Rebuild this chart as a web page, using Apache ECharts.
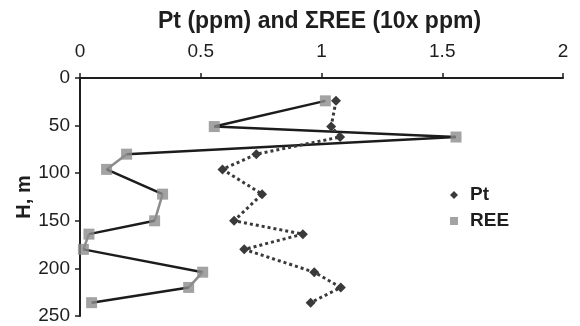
<!DOCTYPE html>
<html>
<head>
<meta charset="utf-8">
<script src="https://cdn.jsdelivr.net/npm/echarts@6/dist/echarts.min.js"></script>
<style>
  html, body { margin: 0; padding: 0; background: #fff; }
  #chart { width: 580px; height: 326px; }
</style>
</head>
<body>
<div id="chart"></div>
<script>
// Sample depths (m) down the section
const depths = [24, 51, 62, 80, 96, 122, 150, 164, 180, 204, 220, 236];
// Pt, ppm
const ptValues = [1.06, 1.04, 1.077, 0.73, 0.59, 0.754, 0.638, 0.923, 0.68, 0.97, 1.08, 0.955];
// Sum of REE, in units of 10 ppm
const reeValues = [1.016, 0.556, 1.557, 0.193, 0.11, 0.342, 0.309, 0.037, 0.014, 0.508, 0.45, 0.048];
// Axis ticks
const xTicks = [0, 0.5, 1, 1.5, 2];
const depthTicks = [0, 50, 100, 150, 200, 250];
// Shade of each REE connecting segment (between sample i and i+1)
const reeSegmentShade = ['dark', 'dark', 'dark', 'light', 'dark', 'light', 'dark', 'light', 'dark', 'light', 'dark'];

const FONT = '"Liberation Sans", Arial, sans-serif';
const INK = '#1e1e1e';
const SHADES = { dark: '#1c1c1c', light: '#8c8c8c' };

const pairs = (xs) => xs.map((v, i) => [v, depths[i]]);

const reeSegments = reeSegmentShade.map((shade, i) => ({
  type: 'line',
  name: 'REE-seg-' + i,
  data: [[reeValues[i], depths[i]], [reeValues[i + 1], depths[i + 1]]],
  showSymbol: false,
  symbol: 'none',
  silent: true,
  z: 2,
  lineStyle: { color: SHADES[shade], width: 2.5 },
  animation: false
}));

const chart = echarts.init(document.getElementById('chart'), null, { renderer: 'canvas' });
chart.setOption({
  animation: false,
  backgroundColor: '#ffffff',
  title: {
    text: 'Pt (ppm) and \u03A3REE (10x ppm)',
    left: 153,
    top: 5,
    textStyle: { fontFamily: FONT, fontSize: 23, fontWeight: 'bold', color: INK }
  },
  grid: { left: 80, right: 17, top: 78, bottom: 10, containLabel: false },
  legend: {
    orient: 'vertical',
    left: 445,
    top: 180,
    itemWidth: 8,
    itemHeight: 8,
    itemGap: 6,
    data: [
      { name: 'Pt', icon: 'diamond', itemStyle: { color: '#3a3a3a' } },
      { name: 'REE', icon: 'rect', itemStyle: { color: '#8c8c8c' } }
    ],
    textStyle: { fontFamily: FONT, fontSize: 19, fontWeight: 'bold', color: INK, lineHeight: 20, padding: [0, 0, 0, 7] }
  },
  xAxis: {
    type: 'value',
    position: 'top',
    min: xTicks[0],
    max: xTicks[xTicks.length - 1],
    interval: xTicks[1] - xTicks[0],
    splitLine: { show: false },
    axisLine: { show: true, lineStyle: { color: INK, width: 2 } },
    axisTick: { show: true, inside: false, length: 5, lineStyle: { color: INK, width: 1.5 } },
    axisLabel: { fontFamily: FONT, fontSize: 19, color: INK, margin: 17 }
  },
  yAxis: {
    type: 'value',
    inverse: true,
    min: depthTicks[0],
    max: depthTicks[depthTicks.length - 1],
    interval: depthTicks[1] - depthTicks[0],
    name: 'H, m',
    nameLocation: 'middle',
    nameRotate: 90,
    nameGap: 46,
    nameMoveOverlap: false,
    nameTextStyle: { fontFamily: FONT, fontSize: 20, fontWeight: 'bold', color: INK },
    splitLine: { show: false },
    axisLine: { show: true, lineStyle: { color: INK, width: 2 } },
    axisTick: { show: true, inside: false, length: 5, lineStyle: { color: INK, width: 1.5 } },
    axisLabel: { fontFamily: FONT, fontSize: 19, color: INK, margin: 10 }
  },
  series: [
    ...reeSegments,
    {
      type: 'scatter',
      name: 'REE',
      data: pairs(reeValues),
      symbol: 'rect',
      symbolSize: 11,
      z: 3,
      itemStyle: { color: '#8c8c8c' }
    },
    {
      type: 'line',
      name: 'Pt',
      data: pairs(ptValues),
      symbol: 'diamond',
      symbolSize: 10,
      showAllSymbol: true,
      z: 4,
      itemStyle: { color: '#3a3a3a' },
      lineStyle: { color: '#3a3a3a', width: 3, type: [3, 3] }
    }
  ]
});
</script>
</body>
</html>
